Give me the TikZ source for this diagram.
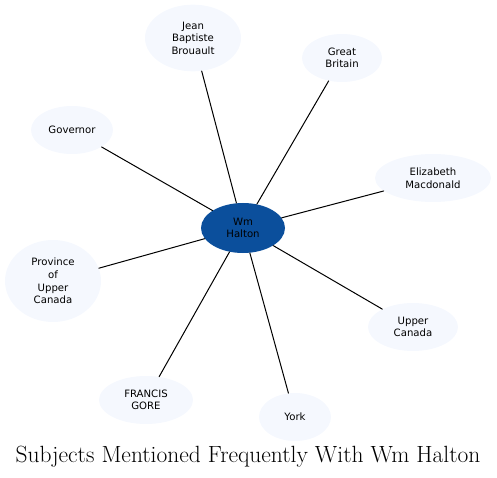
\documentclass[tikz,border=0pt]{standalone}
\usepackage{fontspec}
\usetikzlibrary{shapes.geometric}
\newfontfamily\nodefont{DejaVu Sans}
\definecolor{hubblue}{HTML}{0B4F9C}
\definecolor{leafblue}{HTML}{F5F8FE}
\begin{document}
\begin{tikzpicture}[x=0.75pt, y=-0.75pt, line join=round, line cap=round,
		leaf/.style={ellipse, fill=leafblue, inner sep=0pt, align=center, font=\nodefont\fontsize{7.6}{9.4}\selectfont},
		hub/.style={leaf, fill=hubblue},
		link/.style={line width=0.75pt, black}]
		\useasboundingbox (0,0) rectangle (497,478);
		\node[hub, minimum width=63pt, minimum height=37.5pt] (halton) at (243,228) {Wm\\Halton};
		\node[leaf, minimum width=72pt, minimum height=50pt] (brouault) at (193,38) {Jean\\Baptiste\\Brouault};
		\node[leaf, minimum width=60pt, minimum height=36pt] (britain) at (342,58) {Great\\Britain};
		\node[leaf, minimum width=61.5pt, minimum height=36pt] (governor) at (72,130) {Governor};
		\node[leaf, minimum width=87pt, minimum height=36pt] (macdonald) at (433,178) {Elizabeth\\Macdonald};
		\node[leaf, minimum width=72pt, minimum height=61.5pt] (province) at (53,281) {Province\\of\\Upper\\Canada};
		\node[leaf, minimum width=67.5pt, minimum height=36pt] (upper) at (413,327) {Upper\\Canada};
		\node[leaf, minimum width=70.5pt, minimum height=36pt] (gore) at (146,400) {FRANCIS\\GORE};
		\node[leaf, minimum width=54pt, minimum height=36pt] (york) at (295,417) {York};
		\foreach \n in {brouault,britain,governor,macdonald,province,upper,gore,york}
			\draw[link] (halton) -- (\n);
		\node[font=\fontsize{17.6}{20}\selectfont] (title) at (248,457) {Subjects Mentioned Frequently With Wm Halton};
	\end{tikzpicture}
\end{document}
